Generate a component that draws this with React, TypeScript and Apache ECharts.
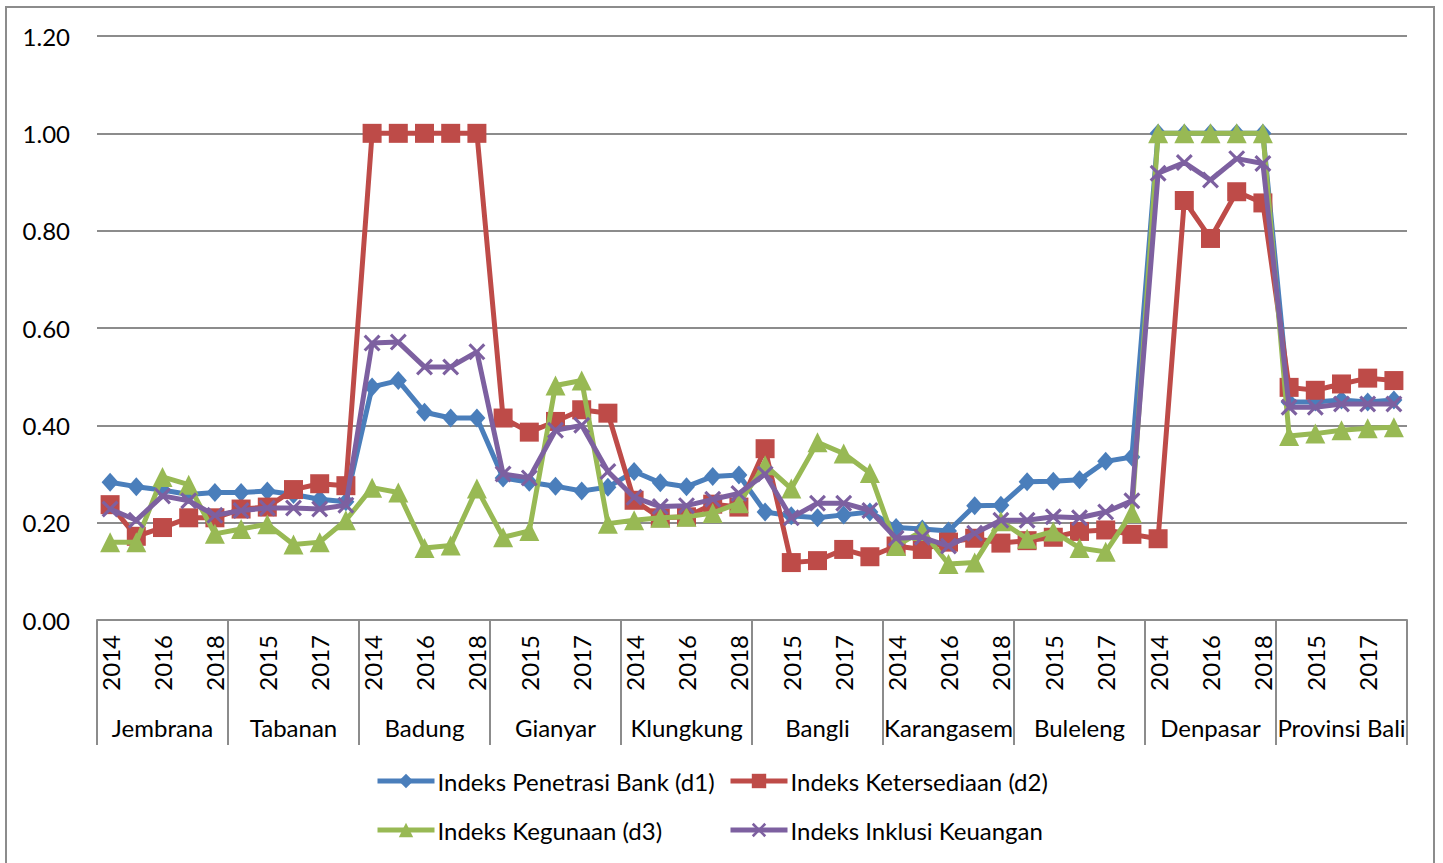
import React, { useEffect, useRef } from "react";
import * as echarts from "echarts";

const regions = ["Jembrana", "Tabanan", "Badung", "Gianyar", "Klungkung", "Bangli", "Karangasem", "Buleleng", "Denpasar", "Provinsi Bali"];
const years = ["2014", "2015", "2016", "2017", "2018"];
const yTicks = [0, 0.2, 0.4, 0.6, 0.8, 1.0, 1.2];

const seriesNames = ["Indeks Penetrasi Bank (d1)", "Indeks Ketersediaan (d2)", "Indeks Kegunaan (d3)", "Indeks Inklusi Keuangan"];

const d1 = [
  0.283, 0.274, 0.267, 0.258, 0.262,
  0.262, 0.265, 0.258, 0.248, 0.243,
  0.479, 0.492, 0.427, 0.415, 0.415,
  0.292, 0.283, 0.275, 0.265, 0.273,
  0.305, 0.282, 0.274, 0.295, 0.298,
  0.222, 0.214, 0.21, 0.216, 0.222,
  0.19, 0.187, 0.183, 0.235, 0.236,
  0.284, 0.285, 0.288, 0.326, 0.335,
  1, 1, 1, 1, 1,
  0.448, 0.448, 0.452, 0.448, 0.452,
];
const d2 = [
  0.237, 0.172, 0.19, 0.21, 0.21,
  0.228, 0.232, 0.268, 0.28, 0.276,
  1, 1, 1, 1, 1,
  0.415, 0.386, 0.408, 0.432, 0.425,
  0.246, 0.21, 0.212, 0.238, 0.232,
  0.352, 0.118, 0.122, 0.145, 0.13,
  0.152, 0.145, 0.16, 0.168, 0.158,
  0.163, 0.17, 0.182, 0.185, 0.176,
  0.167, 0.862, 0.784, 0.88, 0.857,
  0.478, 0.472, 0.485, 0.497, 0.492,
];
const d3 = [
  0.16, 0.16, 0.294, 0.278, 0.177,
  0.187, 0.197, 0.155, 0.16, 0.205,
  0.272, 0.262, 0.148, 0.153, 0.27,
  0.17, 0.183, 0.482, 0.492, 0.198,
  0.205, 0.21, 0.212, 0.22, 0.24,
  0.318, 0.27, 0.365, 0.342, 0.302,
  0.152, 0.183, 0.115, 0.118, 0.203,
  0.167, 0.182, 0.148, 0.14, 0.22,
  1, 1, 1, 1, 1,
  0.378, 0.383, 0.39, 0.394, 0.396,
];
const inklusi = [
  0.228, 0.205, 0.255, 0.245, 0.215,
  0.225, 0.23, 0.23, 0.228, 0.236,
  0.569, 0.571, 0.52, 0.52, 0.551,
  0.3, 0.292, 0.39, 0.4, 0.305,
  0.252, 0.233, 0.235, 0.248, 0.26,
  0.3, 0.21, 0.24, 0.24, 0.225,
  0.168, 0.17, 0.152, 0.178, 0.205,
  0.205, 0.212, 0.21, 0.222, 0.245,
  0.918, 0.94, 0.904, 0.948, 0.938,
  0.437, 0.437, 0.444, 0.444, 0.444,
];

const colors = ["#4A7EBB", "#BE4B48", "#98B954", "#7D60A0"];
const FONT = "Lato";
const GRAY = "#8c8c8c";
const FS = 24;
const XSYM = "path://M0,1.3 L1.3,0 L5,3.7 L8.7,0 L10,1.3 L6.3,5 L10,8.7 L8.7,10 L5,6.3 L1.3,10 L0,8.7 L3.7,5 Z";

export default function App() {
  const ref = useRef<HTMLDivElement>(null);
  useEffect(() => {
    if (!ref.current) return;
    const chart = echarts.init(ref.current, null, { renderer: "svg" });
    const cats: string[] = [];
    regions.forEach(() => years.forEach((y) => cats.push(y)));
    const datas = [d1, d2, d3, inklusi];
    const symbols = ["diamond", "rect", "triangle", XSYM];
    const sizes = [[17, 19], 19, 20, 17];
    const legendPos = [
      { left: 375, top: 769 },
      { left: 728, top: 769 },
      { left: 375, top: 818 },
      { left: 728, top: 818 },
    ];
    chart.setOption({
      animation: false,
      textStyle: { fontFamily: FONT },
      grid: { left: 97, right: 36, top: 36, bottom: 243, containLabel: false },
      xAxis: [
        {
          type: "category",
          data: cats,
          boundaryGap: true,
          axisLine: { show: true, lineStyle: { color: GRAY, width: 2 } },
          axisTick: { show: false },
          axisLabel: { interval: 1, rotate: 90, margin: 15, fontSize: FS, color: "#000", fontFamily: FONT },
        },
        {
          type: "category",
          data: regions,
          position: "bottom",
          boundaryGap: true,
          axisLine: { show: false },
          axisTick: { show: true, interval: 0, length: 125, lineStyle: { color: GRAY, width: 2 } },
          axisLabel: { interval: 0, margin: 95, fontSize: FS, color: "#000", fontFamily: FONT },
        },
      ],
      yAxis: {
        type: "value",
        min: yTicks[0],
        max: yTicks[yTicks.length - 1],
        interval: 0.2,
        axisLine: { show: false },
        axisTick: { show: false },
        axisLabel: { margin: 27, fontSize: FS, color: "#000", fontFamily: FONT, formatter: (v: number) => v.toFixed(2) },
        splitLine: { lineStyle: { color: GRAY, width: 2 } },
      },
      legend: seriesNames.map((n, i) => ({
        data: [n],
        left: legendPos[i].left,
        top: legendPos[i].top,
        padding: 0,
        itemWidth: 57,
        itemHeight: 18,
        itemGap: 4,
        lineStyle: { width: 5 },
        textStyle: { fontSize: FS, color: "#000", fontFamily: FONT, padding: [0, 0, 0, -2] },
      })),
      graphic: [
        {
          type: "rect",
          shape: { x: 6, y: 7, width: 1428, height: 900 },
          style: { fill: "none", stroke: GRAY, lineWidth: 2 },
          silent: true,
        },
      ],
      series: seriesNames.map((n, i) => ({
        name: n,
        type: "line",
        xAxisIndex: 0,
        data: datas[i],
        symbol: symbols[i],
        symbolSize: sizes[i],
        showAllSymbol: true,
        lineStyle: { color: colors[i], width: 5 },
        itemStyle: { color: colors[i] },
        z: 2 + i,
      })),
    });
    return () => chart.dispose();
  }, []);
  return <div ref={ref} style={{ position: "absolute", left: 0, top: 0, width: 1443, height: 863 }} />;
}
